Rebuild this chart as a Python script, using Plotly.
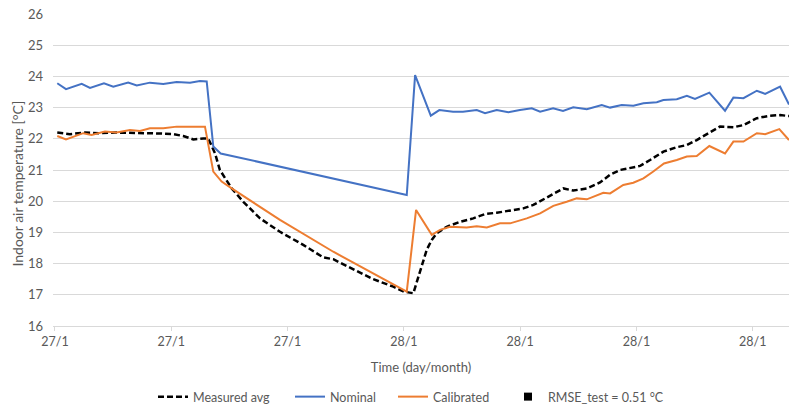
import plotly.graph_objects as go

# Time in hours (tick 0 = 27/1, first label)
tick_vals = [0, 6, 12, 18, 24, 30, 36]
tick_text = ["27/1", "27/1", "27/1", "28/1", "28/1", "28/1", "28/1"]

nominal_t = [0.12, 0.57, 1.38, 1.81, 2.53, 3.01, 3.78, 4.22, 4.90, 5.59, 6.28, 6.97, 7.48, 7.83,
             8.17, 8.55, 18.15, 18.58, 19.39, 19.83, 20.54, 21.05, 21.76, 22.19, 22.79, 23.39,
             23.99, 24.60, 25.03, 25.70, 26.21, 26.74, 27.44, 28.21, 28.64, 29.24, 29.84, 30.36,
             31.05, 31.39, 32.08, 32.60, 33.02, 33.76, 34.57, 35.00, 35.52, 36.21, 36.64, 37.41, 37.87]
nominal_v = [23.78, 23.59, 23.76, 23.63, 23.78, 23.67, 23.80, 23.71, 23.80, 23.76, 23.82, 23.80, 23.85, 23.84,
             21.75, 21.53, 20.20, 24.04, 22.74, 22.92, 22.87, 22.87, 22.92, 22.82, 22.92, 22.85,
             22.92, 22.98, 22.87, 22.98, 22.89, 23.01, 22.95, 23.08, 23.00, 23.08, 23.06, 23.14,
             23.17, 23.24, 23.27, 23.38, 23.28, 23.48, 22.90, 23.32, 23.30, 23.54, 23.44, 23.67, 23.10]

calib_t = [0.12, 0.57, 1.46, 1.89, 2.58, 3.18, 3.87, 4.39, 4.90, 5.59, 6.28, 6.97, 7.74,
           8.17, 8.60, 9.12, 11.61, 14.36, 18.15, 18.63, 19.44, 19.87, 20.38, 21.24, 21.76,
           22.28, 22.96, 23.48, 24.34, 25.03, 25.71, 26.40, 26.92, 27.44, 28.29, 28.64, 29.32,
           29.84, 30.36, 30.87, 31.42, 32.08, 32.60, 33.11, 33.76, 34.57, 35.00, 35.52, 36.21,
           36.64, 37.37, 37.87]
calib_v = [22.09, 21.98, 22.18, 22.12, 22.23, 22.20, 22.28, 22.25, 22.34, 22.34, 22.39, 22.39, 22.39,
           20.95, 20.63, 20.41, 19.40, 18.38, 17.10, 19.72, 18.92, 19.08, 19.18, 19.16, 19.20,
           19.16, 19.29, 19.29, 19.45, 19.61, 19.85, 19.98, 20.09, 20.06, 20.27, 20.25, 20.52,
           20.59, 20.73, 20.95, 21.21, 21.32, 21.43, 21.45, 21.77, 21.53, 21.91, 21.91, 22.18,
           22.15, 22.31, 21.96]

meas_t = [0.12, 0.77, 1.55, 2.32, 3.10, 3.87, 4.64, 5.42, 6.10, 6.62, 7.14, 7.65, 7.91,
          8.26, 8.51, 9.12, 9.72, 10.58, 11.61, 12.81, 13.84, 14.36, 15.39, 16.42, 17.46,
          18.01, 18.49, 19.18, 19.44, 19.70, 20.21, 20.90, 21.58, 22.19, 22.79, 23.48, 24.16,
          24.68, 25.20, 25.71, 26.23, 26.74, 27.44, 28.12, 28.64, 29.15, 29.67, 30.19, 30.70,
          31.39, 32.08, 32.60, 33.11, 33.80, 34.31, 35.00, 35.52, 36.21, 36.89, 37.41, 37.87]
meas_v = [22.20, 22.15, 22.20, 22.18, 22.20, 22.18, 22.18, 22.17, 22.15, 22.09, 21.98, 22.01, 22.01,
          21.53, 21.00, 20.41, 19.98, 19.45, 19.02, 18.60, 18.20, 18.14, 17.82, 17.50, 17.26,
          17.10, 17.05, 18.44, 18.76, 18.97, 19.18, 19.34, 19.45, 19.59, 19.63, 19.70, 19.77,
          19.88, 20.06, 20.25, 20.41, 20.34, 20.41, 20.60, 20.85, 21.00, 21.07, 21.13, 21.32,
          21.59, 21.73, 21.80, 21.96, 22.20, 22.39, 22.37, 22.44, 22.66, 22.74, 22.76, 22.73]

rmse_label = "RMSE_test = 0.51 °C"

FONT = "Lato, 'Open Sans', sans-serif"
TXT = "#595959"
LEG_FONT = dict(family=FONT, size=12.5, color=TXT)

fig = go.Figure()
fig.add_trace(go.Scatter(x=meas_t, y=meas_v, mode="lines", name="Measured avg", legend="legend",
                         line=dict(color="#000000", width=2.5, dash="6px,3px")))
fig.add_trace(go.Scatter(x=nominal_t, y=nominal_v, mode="lines", name="Nominal", legend="legend2",
                         line=dict(color="#4472C4", width=2)))
fig.add_trace(go.Scatter(x=calib_t, y=calib_v, mode="lines", name="Calibrated", legend="legend3",
                         line=dict(color="#ED7D31", width=2)))
fig.add_trace(go.Scatter(x=[None], y=[None], mode="markers", name=rmse_label, legend="legend4",
                         marker=dict(symbol="square", color="#000000", size=8)))


def leg(xpix):
    return dict(orientation="h", xref="container", yref="container",
                x=xpix / 789, xanchor="left", y=(410 - 382) / 410, yanchor="top",
                font=LEG_FONT, bgcolor="rgba(0,0,0,0)")


fig.update_layout(
    width=789, height=410,
    margin=dict(l=53, r=0, t=14, b=84),
    paper_bgcolor="white", plot_bgcolor="white",
    font=dict(family=FONT, size=12.5, color=TXT),
    showlegend=True,
    legend=leg(153), legend2=leg(290), legend3=leg(393), legend4=leg(508),
    xaxis=dict(range=[-0.10, 37.87], tickmode="array", tickvals=tick_vals, ticktext=tick_text,
               showgrid=False, zeroline=False, showline=True, linecolor="#d9d9d9", linewidth=1,
               ticks="outside", ticklen=4, tickcolor="#d9d9d9",
               tickfont=dict(family=FONT, size=12.5, color=TXT),
               title=dict(text="Time (day/month)", standoff=14,
                          font=dict(family=FONT, size=13, color=TXT))),
    yaxis=dict(range=[16, 26], tickmode="linear", tick0=16, dtick=1,
               showgrid=True, gridcolor="#d9d9d9", gridwidth=1, zeroline=False,
               showline=False, ticks="", ticklabelstandoff=9,
               tickfont=dict(family=FONT, size=13, color=TXT)),
    annotations=[dict(text="Indoor air temperature [°C]", textangle=-90, xref="paper", yref="paper",
                      x=-0.0495, y=(410 - 84 - 184) / (410 - 98), xanchor="center", yanchor="middle",
                      showarrow=False, font=dict(family=FONT, size=14, color=TXT))],
)

fig.write_html("out.html")
